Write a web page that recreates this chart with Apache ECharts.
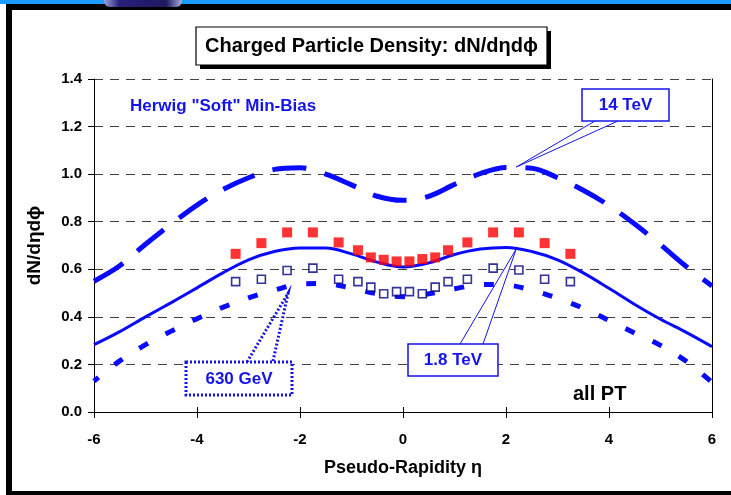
<!DOCTYPE html>
<html>
<head>
<meta charset="utf-8">
<script src="https://cdn.jsdelivr.net/npm/echarts@6/dist/echarts.min.js"></script>
<style>
  html, body { margin: 0; padding: 0; background: #fff; }
  #chart { width: 731px; height: 495px; }
</style>
</head>
<body>
<div id="chart"></div>
<script>
// Herwig "Soft" Min-Bias predictions, sampled on a pseudo-rapidity grid
const etaGrid = [-6, -5.5, -5, -4.5, -4, -3.5, -3, -2.5, -2, -1.5, -1, -0.5, 0,
                 0.5, 1, 1.5, 2, 2.5, 3, 3.5, 4, 4.5, 5, 5.5, 6];
const herwig14TeV = [0.550, 0.615, 0.705, 0.790, 0.870, 0.935, 0.985, 1.020, 1.027, 1.000, 0.955, 0.907, 0.890,
                     0.907, 0.957, 1.002, 1.028, 1.025, 0.985, 0.932, 0.868, 0.790, 0.703, 0.612, 0.530];
const herwig1800 = [0.283, 0.338, 0.400, 0.460, 0.522, 0.585, 0.640, 0.675, 0.690, 0.689, 0.665, 0.630, 0.610,
                    0.627, 0.662, 0.685, 0.692, 0.675, 0.640, 0.585, 0.520, 0.452, 0.390, 0.335, 0.275];
const herwig630 = [0.130, 0.215, 0.283, 0.340, 0.392, 0.440, 0.480, 0.512, 0.538, 0.540, 0.520, 0.497, 0.485,
                   0.497, 0.518, 0.536, 0.534, 0.512, 0.478, 0.436, 0.385, 0.332, 0.280, 0.213, 0.125];

// CDF measurements
const dataEta = [-3.25, -2.75, -2.25, -1.75, -1.25, -0.875, -0.625, -0.375, -0.125,
                 0.125, 0.375, 0.625, 0.875, 1.25, 1.75, 2.25, 2.75, 3.25];
const cdf1800 = [0.665, 0.710, 0.755, 0.755, 0.713, 0.680, 0.650, 0.640, 0.633,
                 0.633, 0.643, 0.650, 0.680, 0.713, 0.755, 0.755, 0.710, 0.665];
const cdf630 = [0.548, 0.558, 0.595, 0.605, 0.558, 0.548, 0.525, 0.497, 0.506,
                0.506, 0.497, 0.525, 0.548, 0.558, 0.605, 0.597, 0.558, 0.548];

// Labels
const titleText = 'Charged Particle Density: dN/dηdϕ';
const yAxisTitle = 'dN/dηdϕ';
const xAxisTitle = 'Pseudo-Rapidity η';
const modelLabel = 'Herwig "Soft" Min-Bias';
const energyLabels = ['14 TeV', '1.8 TeV', '630 GeV'];
const cutLabel = 'all PT';

const FONT = '"Liberation Sans", Arial, sans-serif';
const BLUE = '#0a0aff';
const TEXT_BLUE = '#1414e6';

const pairs = (xs, ys) => xs.map((x, i) => [x, ys[i]]);

const chart = echarts.init(document.getElementById('chart'), null, { renderer: 'canvas' });

const option = {
  backgroundColor: '#ffffff',
  animation: false,
  grid: { left: 94, right: 19, top: 79, bottom: 83, containLabel: false },
  xAxis: [{
    type: 'value', min: -6, max: 6, interval: 2,
    name: xAxisTitle, nameLocation: 'middle', nameGap: 47,
    nameTextStyle: { fontFamily: FONT, fontWeight: 'bold', fontSize: 18, color: '#000' },
    axisLine: { show: true, onZero: false, lineStyle: { color: '#000', width: 1 } },
    axisTick: { show: true, inside: false, length: 6, lineStyle: { color: '#000' } },
    axisLabel: { fontFamily: FONT, fontWeight: 'bold', fontSize: 15, color: '#000', margin: 20 },
    splitLine: { show: false }
  }, {
    // inner half of the crossing tick marks
    type: 'value', min: -6, max: 6, interval: 2, position: 'bottom',
    axisLine: { show: false, onZero: false },
    axisTick: { show: true, inside: true, length: 5, lineStyle: { color: '#000' } },
    axisLabel: { show: false }, splitLine: { show: false }
  }],
  yAxis: [{
    type: 'value', min: 0, max: 1.4, interval: 0.2,
    name: yAxisTitle, nameLocation: 'middle', nameGap: 50,
    nameTextStyle: { fontFamily: FONT, fontWeight: 'bold', fontSize: 19, color: '#000' },
    axisLine: { show: true, onZero: false, lineStyle: { color: '#000', width: 1 } },
    axisTick: { show: true, inside: false, length: 6, lineStyle: { color: '#000' } },
    axisLabel: { fontFamily: FONT, fontWeight: 'bold', fontSize: 15, color: '#000', margin: 12,
                 formatter: v => v.toFixed(1) },
    splitLine: { show: true, lineStyle: { color: '#444', width: 1, type: [9, 7] } }
  }, {
    // plot-area right border
    type: 'value', min: 0, max: 1.4, interval: 0.2, position: 'right',
    axisLine: { show: true, onZero: false, lineStyle: { color: '#000', width: 1 } },
    axisTick: { show: false }, axisLabel: { show: false }, splitLine: { show: false }
  }],
  series: [
    {
      name: '14 TeV', type: 'line', data: pairs(etaGrid, herwig14TeV),
      smooth: 0.35, showSymbol: false, z: 2,
      lineStyle: { color: BLUE, width: 5, type: [34, 19], cap: 'butt' }
    },
    {
      name: '1.8 TeV', type: 'line', data: pairs(etaGrid, herwig1800),
      smooth: 0.35, showSymbol: false, z: 2,
      lineStyle: { color: BLUE, width: 3, type: 'solid' }
    },
    {
      name: '630 GeV', type: 'line', data: pairs(etaGrid, herwig630),
      smooth: 0.35, showSymbol: false, z: 2,
      lineStyle: { color: BLUE, width: 5, type: [10, 20], dashOffset: 4, cap: 'butt' }
    },
    {
      name: 'CDF 1.8 TeV', type: 'scatter', data: pairs(dataEta, cdf1800),
      symbol: 'rect', symbolSize: 10, z: 4,
      itemStyle: { color: '#ff0000', borderWidth: 0 }
    },
    {
      name: 'CDF 630 GeV', type: 'scatter', data: pairs(dataEta, cdf630),
      symbol: 'rect', symbolSize: 8, z: 4,
      itemStyle: { color: '#ffffff', borderColor: '#000080', borderWidth: 1.6 }
    }
  ]
};

chart.setOption(option);

// Callout pointers are anchored to points on the model curves
const px = (x, y) => chart.convertToPixel({ gridIndex: 0 }, [x, y]);
const tip14 = px(2.2, 1.03);
const tip18 = px(2.2, 0.686);
const tip630 = px(-2.23, 0.50);

const textStyle = (size, color) => ({
  fontFamily: FONT, fontWeight: 'bold', fontSize: size, fill: color
});

chart.setOption({
  graphic: [
    // slide frame
    { type: 'rect', shape: { x: 0, y: 0, width: 731, height: 4 }, style: { fill: '#1a9cff' }, z: 50 },
    { type: 'rect', shape: { x: 104, y: 0, width: 78, height: 7, r: [0, 0, 6, 6] },
      style: { fill: new echarts.graphic.LinearGradient(0, 0, 1, 0, [
        { offset: 0, color: '#9aa0d8' }, { offset: 0.2, color: '#2a1f7a' },
        { offset: 0.8, color: '#201860' }, { offset: 1, color: '#a8b0e0' }]) }, z: 51 },
    { type: 'rect', shape: { x: 6, y: 4, width: 725, height: 6 }, style: { fill: '#000' }, z: 50 },
    { type: 'rect', shape: { x: 6, y: 4, width: 6, height: 491 }, style: { fill: '#000' }, z: 50 },
    { type: 'rect', shape: { x: 6, y: 491, width: 725, height: 4 }, style: { fill: '#000' }, z: 50 },

    // title box with drop shadow
    { type: 'rect', shape: { x: 200, y: 31, width: 351, height: 38 }, style: { fill: '#000' }, z: 60 },
    { type: 'rect', shape: { x: 196, y: 27, width: 351, height: 38 },
      style: { fill: '#fff', stroke: '#000', lineWidth: 1.2 }, z: 61 },
    { type: 'text', x: 371.5, y: 46, z: 62,
      style: Object.assign(textStyle(20, '#000'), { text: titleText, align: 'center', verticalAlign: 'middle' }) },

    // model label and cut label
    { type: 'text', x: 130, y: 106, z: 62,
      style: Object.assign(textStyle(17, TEXT_BLUE), { text: modelLabel, align: 'left', verticalAlign: 'middle' }) },
    { type: 'text', x: 573, y: 394, z: 62,
      style: Object.assign(textStyle(20, '#000'), { text: cutLabel, align: 'left', verticalAlign: 'middle' }) },

    // 14 TeV callout
    { type: 'polyline', shape: { points: [[595, 121], tip14, [618, 121]] },
      style: { stroke: TEXT_BLUE, lineWidth: 1, fill: null }, z: 63 },
    { type: 'rect', shape: { x: 582, y: 89, width: 87, height: 32 },
      style: { fill: '#fff', stroke: TEXT_BLUE, lineWidth: 1.5 }, z: 64 },
    { type: 'text', x: 625.5, y: 105, z: 65,
      style: Object.assign(textStyle(17, TEXT_BLUE), { text: energyLabels[0], align: 'center', verticalAlign: 'middle' }) },

    // 1.8 TeV callout
    { type: 'polyline', shape: { points: [[460, 344], tip18, [483, 344]] },
      style: { stroke: TEXT_BLUE, lineWidth: 1, fill: null }, z: 63 },
    { type: 'rect', shape: { x: 408, y: 344, width: 90, height: 32 },
      style: { fill: '#fff', stroke: TEXT_BLUE, lineWidth: 1.5 }, z: 64 },
    { type: 'text', x: 453, y: 360, z: 65,
      style: Object.assign(textStyle(17, TEXT_BLUE), { text: energyLabels[1], align: 'center', verticalAlign: 'middle' }) },

    // 630 GeV callout (dotted)
    { type: 'polyline', shape: { points: [[247, 362], tip630, [273, 361]] },
      style: { stroke: TEXT_BLUE, lineWidth: 3, lineDash: [2, 2], fill: null }, z: 63 },
    { type: 'rect', shape: { x: 186, y: 362, width: 106, height: 33 },
      style: { fill: '#fff', stroke: TEXT_BLUE, lineWidth: 3, lineDash: [2, 2] }, z: 64 },
    { type: 'text', x: 239, y: 379, z: 65,
      style: Object.assign(textStyle(17, TEXT_BLUE), { text: energyLabels[2], align: 'center', verticalAlign: 'middle' }) }
  ]
});
</script>
</body>
</html>
